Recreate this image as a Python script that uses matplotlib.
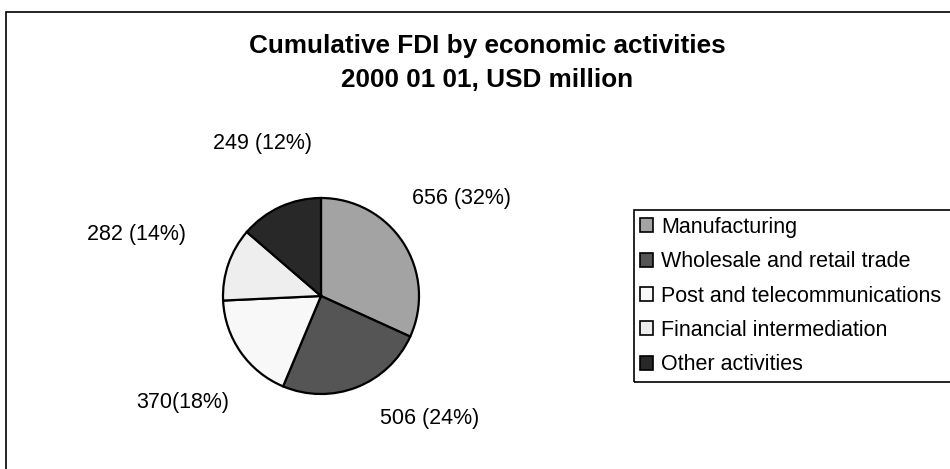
import matplotlib
matplotlib.use("Agg")
import matplotlib.pyplot as plt
from matplotlib.patches import Rectangle, Patch

# ---- data ----
categories = ["Manufacturing", "Wholesale and retail trade",
              "Post and telecommunications", "Financial intermediation",
              "Other activities"]
# slice sizes as drawn in the reference (clockwise from 12 o'clock)
values = [656, 506, 370, 249, 282]
# label texts as they appear next to each slice in the reference
value_labels = ["656 (32%)", "506 (24%)", "370(18%)", "282 (14%)", "249 (12%)"]
title_lines = ["Cumulative FDI by economic activities", "2000 01 01, USD million"]

# ---- style / layout ----
colors = ["#a3a3a3", "#555555", "#f8f8f8", "#eeeeee", "#282828"]
label_offsets = [(1.43, 1.0), (1.11, -1.245), (-1.41, -1.09), (-1.88, 0.63), (-0.6, 1.56)]

plt.rcParams['font.family'] = ['Liberation Sans', 'DejaVu Sans']

W, H = 950, 469
fig = plt.figure(figsize=(W / 100, H / 100), dpi=100)
fig.patch.set_facecolor("white")

# outer chart frame (extends beyond right/bottom)
fig.add_artist(Rectangle((5.5 / W, -0.1), 1.2, (H - 12.5) / H + 0.1,
                         transform=fig.transFigure, fill=False,
                         edgecolor="black", lw=1.2))

# pie axes: center (321, 296) px, radius 98 px
cx, cy, r = 321, 296, 98
L = 2.5
ax = fig.add_axes([(cx - r * L) / W, (H - cy - r * L) / H, 2 * r * L / W, 2 * r * L / H])

wedges, _ = ax.pie(values, colors=colors, startangle=90, counterclock=False,
                   radius=1.0, wedgeprops=dict(edgecolor="black", linewidth=1.6))
ax.set_xlim(-L, L)
ax.set_ylim(-L, L)
ax.axis("off")
for (dx, dy), txt in zip(label_offsets, value_labels):
    ax.text(dx, dy, txt, ha="center", va="center", fontsize=15.5, clip_on=False)

# title
fig.text(487 / W, 1 - 46.5 / H, title_lines[0], ha="center", va="center",
         fontsize=18.8, fontweight="bold")
fig.text(487 / W, 1 - 80 / H, title_lines[1], ha="center", va="center",
         fontsize=18.8, fontweight="bold")

# legend
handles = [Patch(facecolor=c, edgecolor="black", linewidth=1.2) for c in colors]
leg = fig.legend(handles, categories, loc="upper left",
                 bbox_to_anchor=(633.5 / W, 1 - 210.5 / H),
                 frameon=True, fancybox=False, fontsize=15.5,
                 handlelength=0.62, handleheight=0.62, handletextpad=0.35,
                 labelspacing=0.62, borderpad=0.3, borderaxespad=0,
                 edgecolor="black")
leg.get_frame().set_visible(False)

# legend frame that runs past the right edge, as in the reference
fig.canvas.draw()
bb = leg.get_window_extent()
fig.add_artist(Rectangle((bb.x0 / W, bb.y0 / H), 1.0, bb.height / H,
                         transform=fig.transFigure, fill=False,
                         edgecolor="black", lw=1.2))

fig.savefig("out.png", dpi=100)
